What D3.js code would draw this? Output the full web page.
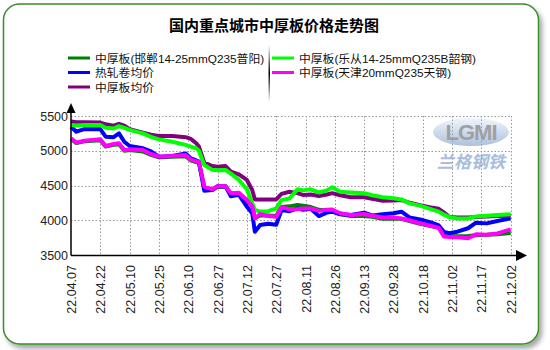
<!DOCTYPE html>
<html><head><meta charset="utf-8">
<script src="https://cdn.jsdelivr.net/npm/d3@7"></script>
<style>
html,body{margin:0;padding:0;background:#fff;}
svg{display:block;font-family:"Liberation Sans","Noto Sans CJK SC",sans-serif;}
</style></head><body>
<svg id="c" width="550" height="350"></svg>
<script>
const title = "国内重点城市中厚板价格走势图";
const tickLabels = ["22.04.07","22.04.22","22.05.10","22.05.25","22.06.10","22.06.27","22.07.12","22.07.27","22.08.11","22.08.26","22.09.13","22.09.28","22.10.18","22.11.02","22.11.17","22.12.02"];
const tickIdx = [0,11,22,33,44,55,66,77,88,99,110,121,132,143,154,165];
const yTicks = [3500,4000,4500,5000,5500];
// trading-day index of each sampled point
const dayIdx = [0,2,5,11,13,16,18,20,22,27,30,33,38,43,45,47,48,50,53,55,58,60,63,66,68,69,71,74,77,79,82,85,87,90,93,96,98,101,105,110,113,117,121,124,127,131,135,138,140,142,145,149,152,156,160,165];
const seriesNames = ["中厚板(邯郸14-25mmQ235普阳)","热轧卷均价","中厚板均价","中厚板(乐从14-25mmQ235B韶钢)","中厚板(天津20mmQ235天钢)"];
const handan = [5170,5110,5135,5150,5060,5085,5095,5000,5010,4990,4940,4905,4915,4920,4860,4835,4820,4480,4440,4480,4480,4380,4385,4280,4200,4030,4070,4070,4060,4190,4200,4220,4210,4190,4150,4140,4130,4090,4060,4060,4050,4020,4020,4020,3990,3950,3915,3890,3780,3775,3770,3775,3785,3790,3800,3815];
const hotRolled = [5346,5274,5310,5310,5203,5195,5250,5130,5068,5035,4990,4914,4925,4960,4890,4860,4843,4425,4435,4490,4490,4345,4365,4195,4100,3835,3932,3950,3935,4147,4130,4170,4150,4165,4060,4110,4123,4085,4075,4110,4070,4085,4100,4123,4040,4013,3970,3925,3830,3815,3835,3885,3965,3955,3990,4027];
const plateAvg = [5420,5410,5410,5405,5380,5360,5385,5360,5310,5260,5230,5212,5212,5195,5170,5107,5060,4830,4780,4770,4780,4700,4660,4580,4435,4300,4300,4300,4300,4380,4410,4390,4365,4370,4350,4370,4390,4360,4330,4330,4310,4280,4285,4290,4253,4215,4185,4165,4110,4045,4040,4040,4045,4055,4060,4065];
const lecong = [5370,5365,5370,5370,5330,5320,5355,5330,5300,5250,5200,5164,5130,5085,5060,5035,5000,4795,4725,4720,4723,4670,4580,4445,4243,4150,4125,4130,4170,4290,4315,4445,4430,4445,4400,4430,4474,4410,4400,4390,4360,4330,4315,4300,4243,4210,4160,4123,4080,4045,4026,4026,4055,4065,4075,4085];
const tianjin = [5179,5117,5145,5165,5068,5097,5107,5010,5020,5010,4953,4914,4925,4940,4870,4850,4843,4483,4445,4490,4490,4387,4395,4290,4205,4027,4090,4060,4050,4185,4160,4160,4170,4170,4135,4150,4155,4100,4075,4090,4065,4040,4040,4026,4000,3955,3920,3890,3765,3760,3755,3740,3800,3790,3810,3870];
const colors = ["#008000","#0000ff","#800080","#00ff00","#ff00ff"];

const svg = d3.select("#c");
const defs = svg.append("defs");
const sh = defs.append("filter").attr("id","sh").attr("x","-5%").attr("y","-5%").attr("width","115%").attr("height","115%");
sh.append("feDropShadow").attr("dx",3).attr("dy",4).attr("stdDeviation",2.5).attr("flood-color","#000").attr("flood-opacity",0.35);
const lg = defs.append("linearGradient").attr("id","sep").attr("x1",0).attr("y1",0).attr("x2",0).attr("y2",1);
lg.append("stop").attr("offset","0%").attr("stop-color","#fff");
lg.append("stop").attr("offset","50%").attr("stop-color","#000");
lg.append("stop").attr("offset","100%").attr("stop-color","#fff");
const eg = defs.append("linearGradient").attr("id","logo").attr("x1",0).attr("y1",0).attr("x2",0).attr("y2",1);
eg.append("stop").attr("offset","0%").attr("stop-color","#eef3fa");
eg.append("stop").attr("offset","100%").attr("stop-color","#9fb6d6");
const bl = defs.append("filter").attr("id","soft");
bl.append("feGaussianBlur").attr("stdDeviation",0.45);

// card
svg.append("rect").attr("x",3.5).attr("y",4).attr("width",535).attr("height",340).attr("rx",16)
  .attr("fill","#fff").attr("stroke","#3c8c2c").attr("stroke-width",1.5).attr("filter","url(#sh)");

svg.append("text").attr("x",274).attr("y",31).attr("text-anchor","middle")
  .attr("font-size",15).attr("font-weight","bold").attr("fill","#000").text(title);

// legend
const legPos = [[68,58],[68,72.5],[68,87],[272,58],[272,72.5]];
const legOrder = [0,1,2,3,4];
legOrder.forEach((k,i)=>{
  const [lx,ly] = legPos[i];
  svg.append("line").attr("x1",lx).attr("x2",lx+22).attr("y1",ly).attr("y2",ly)
    .attr("stroke",colors[k]).attr("stroke-width",3);
  svg.append("text").attr("x",lx+27).attr("y",ly+4.5).attr("font-size",11.8).attr("fill","#111").text(seriesNames[k]);
});
svg.append("rect").attr("x",268.5).attr("y",45).attr("width",1.5).attr("height",57).attr("fill","url(#sep)");

// scales
const x = d3.scaleLinear().domain([0,165]).range([71,510.7]);
const y = d3.scaleLinear().domain([3500,5500]).range([255,116]);

// watermark
const wm = svg.append("g");
wm.append("ellipse").attr("cx",471).attr("cy",132).attr("rx",38).attr("ry",14).attr("fill","url(#logo)").attr("opacity",0.85);
wm.append("text").attr("x",471).attr("y",140).attr("text-anchor","middle").attr("font-size",22).attr("font-weight","bold")
  .attr("fill","#a0a0a0").attr("letter-spacing",-1).text("LGMI");
wm.append("text").attr("x",471).attr("y",168).attr("text-anchor","middle").attr("font-size",17).attr("font-weight","bold")
  .attr("fill","#a9bedc").attr("font-style","italic").text("兰格钢铁");

// grid
const grid = svg.append("g").attr("stroke","#999").attr("stroke-width",1).attr("stroke-dasharray","1.5,2");
yTicks.filter(v=>v>3500).forEach(v=>{
  grid.append("line").attr("x1",71).attr("x2",510.7).attr("y1",Math.round(y(v))+0.5).attr("y2",Math.round(y(v))+0.5);
});
tickIdx.filter(v=>v>0).forEach(v=>{
  grid.append("line").attr("x1",Math.round(x(v))+0.5).attr("x2",Math.round(x(v))+0.5).attr("y1",116).attr("y2",255);
});

// lines
const data = [handan,hotRolled,plateAvg,lecong,tianjin];
const line = d3.line().x((d,i)=>x(dayIdx[i])).y(d=>y(d));
const drawOrder = [0,1,2,3,4];
const lg2 = svg.append("g").attr("filter","url(#soft)");
drawOrder.forEach(k=>{
  lg2.append("path").datum(data[k]).attr("d",line).attr("fill","none")
    .attr("stroke",colors[k]).attr("stroke-width",4).attr("stroke-linejoin","round");
});

// axes
const yAxis = d3.axisLeft(y).tickValues(yTicks).tickSize(0).tickPadding(3).tickFormat(d3.format("d"));
const gy = svg.append("g").attr("transform","translate(71,0)").call(yAxis);
gy.select(".domain").remove();
gy.selectAll("text").attr("font-size",12.5).attr("fill","#222").attr("font-family","Liberation Sans");

const xAxis = d3.axisBottom(x).tickValues(tickIdx).tickSize(0).tickFormat((d,i)=>tickLabels[i]);
const gx = svg.append("g").attr("transform","translate(0,255)").call(xAxis);
gx.select(".domain").remove();
gx.selectAll("text").attr("font-size",12.5).attr("fill","#222").attr("font-family","Liberation Sans")
  .attr("transform","rotate(-90)").attr("text-anchor","end").attr("x",-10).attr("y",0).attr("dy","0.36em");

svg.append("line").attr("x1",71).attr("x2",516).attr("y1",255.5).attr("y2",255.5).attr("stroke","#000").attr("stroke-width",1.5);
svg.append("line").attr("x1",71).attr("x2",71).attr("y1",110).attr("y2",255.5).attr("stroke","#000").attr("stroke-width",1.5);
svg.append("path").attr("d","M66.5,113 L71,103 L75.5,113 Z").attr("fill","#000");
svg.append("path").attr("d","M516,250 L527,255.5 L516,261 Z").attr("fill","#000");
</script>
</body></html>
